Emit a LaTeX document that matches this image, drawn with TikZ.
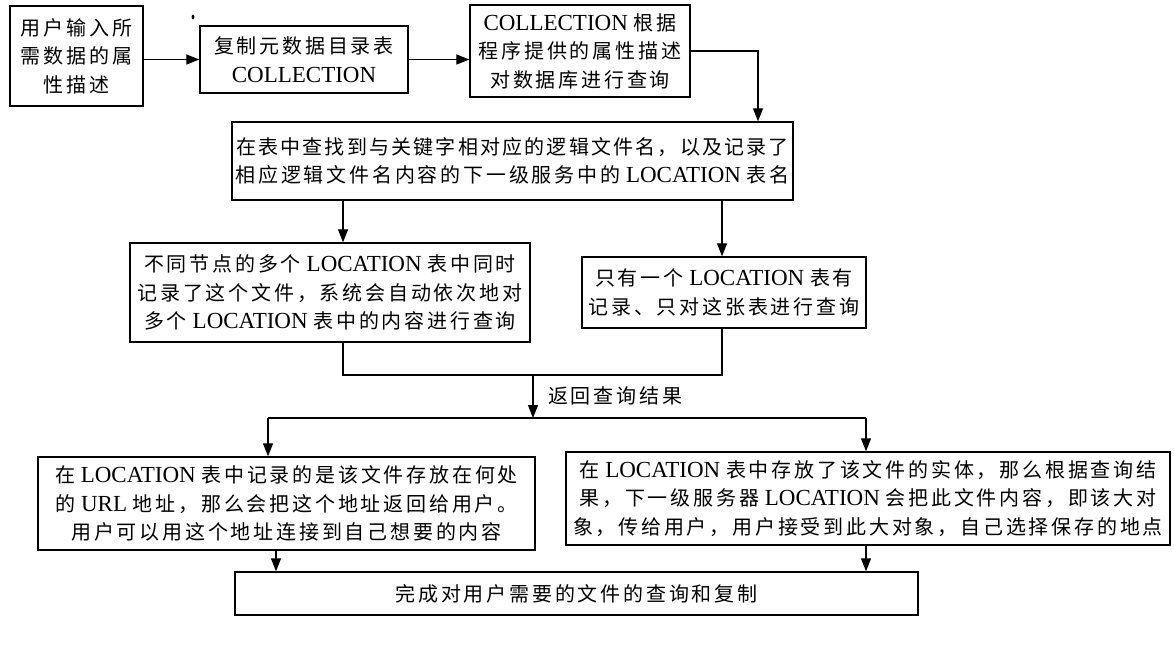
\documentclass[tikz,border=0pt]{standalone}
\usepackage{fontspec}
\setmainfont[Scale=1.15]{Liberation Serif}
\newfontfamily\cjk[LetterSpace=14]{Noto Sans CJK SC}
\newfontfamily\cjktight[LetterSpace=11]{Noto Sans CJK SC}
\usetikzlibrary{arrows.meta}
\begin{document}
\begin{tikzpicture}[x=1pt,y=-1pt,
  box/.style={draw,line width=1.4pt,inner sep=0pt,align=center,
    font=\fontsize{20pt}{28.5pt}\selectfont},
  arr/.style={line width=1.3pt,-{Triangle[length=13pt,width=10pt]}},
  ln/.style={line width=1.3pt},
  lbl/.style={font=\fontsize{20pt}{24pt}\selectfont,inner sep=0pt}]
\useasboundingbox (0,0) rectangle (1174,645);
\fill[white] (0,0) rectangle (1174,645);

\node[box,minimum width=133pt,minimum height=100pt] (b1) at (76.5,56)
  {{\cjk 用户输入所}\\{\cjk 需数据的属}\\{\cjk 性描述}};
\node[box,minimum width=208pt,minimum height=67pt] (b2) at (304,59.5)
  {{\cjk 复制元数据目录表}\\COLLECTION};
\node[box,minimum width=220pt,minimum height=92pt] (b3) at (580,51)
  {COLLECTION {\cjk 根据}\\{\cjk 程序提供的属性描述}\\{\cjk 对数据库进行查询}};
\node[box,minimum width=561pt,minimum height=78pt] (b4) at (512.5,161)
  {{\cjktight 在表中查找到与关键字相对应的逻辑文件名，以及记录了}\\{\cjk 相应逻辑文件名内容的下一级服务中的} LOCATION {\cjk 表名}};
\node[box,minimum width=400pt,minimum height=99pt] (b5) at (330,292.5)
  {{\cjk 不同节点的多个} LOCATION {\cjk 表中同时}\\{\cjk 记录了这个文件，系统会自动依次地对}\\{\cjk 多个} LOCATION {\cjk 表中的内容进行查询}};
\node[box,minimum width=284pt,minimum height=71pt] (b6) at (724,292.5)
  {{\cjk 只有一个} LOCATION {\cjk 表有}\\{\cjk 记录、只对这张表进行查询}};
\node[box,minimum width=497pt,minimum height=93pt] (b7) at (286.5,503.5)
  {{\cjk 在} LOCATION {\cjk 表中记录的是该文件存放在何处}\\{\cjk 的} URL {\cjk 地址，那么会把这个地址返回给用户。}\\{\cjk 用户可以用这个地址连接到自己想要的内容}};
\node[box,minimum width=604pt,minimum height=93pt] (b8) at (868,498.5)
  {{\cjk 在} LOCATION {\cjk 表中存放了该文件的实体，那么根据查询结}\\{\cjk 果，下一级服务器} LOCATION {\cjk 会把此文件内容，即该大对}\\{\cjk 象，传给用户，用户接受到此大对象，自己选择保存的地点}};
\node[box,minimum width=683pt,minimum height=43pt] (b9) at (576.5,593.5)
  {{\cjk 完成对用户需要的文件的查询和复制}};

\fill (193,17) ellipse (1.4pt and 2.4pt);

\draw[arr] (b1.east |- b2.west) -- (b2.west);
\draw[arr] (b2.east) -- (b2.east -| b3.west);
\coordinate (k1) at (758,0);
\draw[arr] (b3.east) -| (k1 |- b4.north);
\coordinate (k2) at (343,0);
\coordinate (k3) at (722,0);
\draw[arr] (k2 |- b4.south) -- (k2 |- b5.north);
\draw[arr] (k3 |- b4.south) -- (k3 |- b6.north);
\coordinate (j) at (0,375);
\draw[ln] (k2 |- b5.south) -- (k2 |- j) -- (k3 |- j) -- (k3 |- b6.south);
\coordinate (m) at (533,375);
\coordinate (h) at (533,418);
\draw[arr] (m) -- (h);
\node[lbl,anchor=west] (lab) at (548,396) {\cjk 返回查询结果};
\coordinate (hl) at (268,418);
\coordinate (hr) at (866,418);
\draw[ln] (hl) -- (hr);
\draw[arr] (hl) -- (hl |- b7.north);
\draw[arr] (hr) -- (hr |- b8.north);
\coordinate (k4) at (276,0);
\coordinate (k5) at (866,0);
\draw[arr] (k4 |- b7.south) -- (k4 |- b9.north);
\draw[arr] (k5 |- b8.south) -- (k5 |- b9.north);
\end{tikzpicture}
\end{document}
